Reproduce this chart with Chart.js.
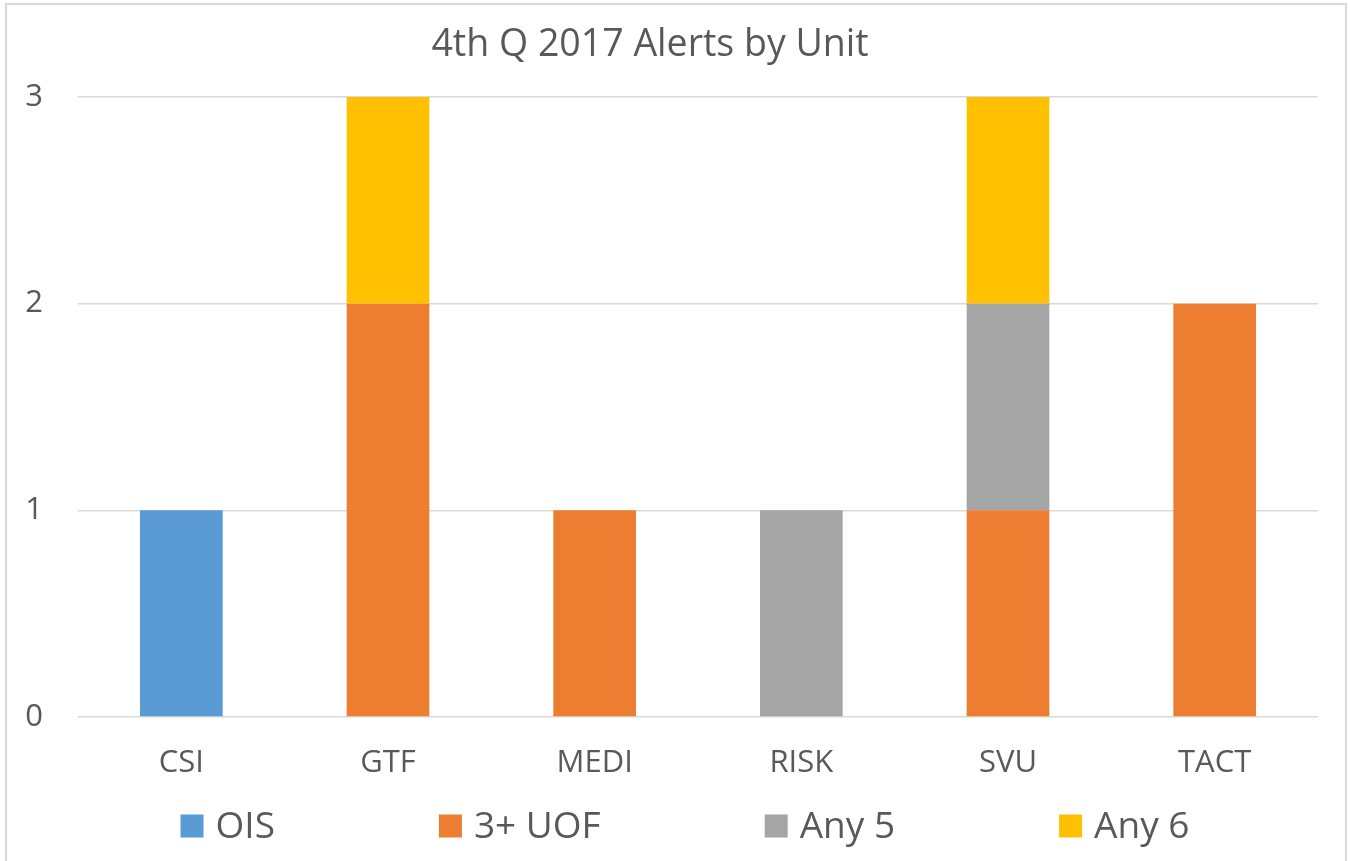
<!DOCTYPE html>
<html>
<head>
<meta charset="utf-8">
<script src="https://cdn.jsdelivr.net/npm/chart.js@4/dist/chart.umd.min.js"></script>
<style>
  html, body { margin: 0; padding: 0; background: #ffffff; }
  #wrap { width: 1350px; height: 861px; position: relative; }
</style>
</head>
<body>
<div id="wrap"><canvas id="c" width="1350" height="861"></canvas></div>
<script>
const chartTitle = '4th Q 2017 Alerts by Unit';
const categories = ['CSI', 'GTF', 'MEDI', 'RISK', 'SVU', 'TACT'];
const seriesNames = ['OIS', '3+ UOF', 'Any 5', 'Any 6'];
const oisValues  = [1, 0, 0, 0, 0, 0];
const uofValues  = [0, 2, 1, 0, 1, 2];
const any5Values = [0, 0, 0, 1, 1, 0];
const any6Values = [0, 1, 0, 0, 1, 0];
const yTicks = [0, 1, 2, 3];
const seriesColors = ['#5B9BD5', '#ED7D31', '#A5A5A5', '#FFC000'];

const TEXT = '#595959';
const FONT = "'Open Sans', 'DejaVu Sans', sans-serif";

const decorPlugin = {
  id: 'decor',
  beforeDraw(chart) {
    const ctx = chart.ctx;
    ctx.save();
    ctx.strokeStyle = '#D9D9D9';
    ctx.lineWidth = 2;
    ctx.strokeRect(6, 4, 1340, 880);
    ctx.restore();
  },
  afterDraw(chart) {
    const ctx = chart.ctx;
    ctx.save();
    // title
    ctx.fillStyle = TEXT;
    ctx.font = "37.5px " + FONT;
    ctx.textAlign = 'center';
    ctx.textBaseline = 'middle';
    ctx.fillText(chartTitle, 650, 45);
    // legend
    ctx.font = "37px " + FONT;
    const box = 23, gapText = 12, gapItem = 164;
    const ds = chart.data.datasets;
    let total = 0;
    const widths = ds.map(d => ctx.measureText(d.label).width);
    widths.forEach((w, i) => { total += box + gapText + w + (i < widths.length - 1 ? gapItem : 0); });
    let x = 685 - total / 2;
    const cy = 826;
    ctx.textAlign = 'left';
    ds.forEach((d, i) => {
      ctx.fillStyle = d.backgroundColor;
      ctx.fillRect(x, cy - box / 2, box, box);
      ctx.fillStyle = TEXT;
      ctx.fillText(d.label, x + box + gapText, cy + 1);
      x += box + gapText + widths[i] + gapItem;
    });
    ctx.restore();
  }
};

const valueLists = [oisValues, uofValues, any5Values, any6Values];

new Chart(document.getElementById('c'), {
  type: 'bar',
  data: {
    labels: categories,
    datasets: seriesNames.map((name, i) => ({
      label: name,
      data: valueLists[i],
      backgroundColor: seriesColors[i],
      borderWidth: 0,
      barPercentage: 0.4,
      categoryPercentage: 1.0
    }))
  },
  options: {
    responsive: false,
    animation: false,
    devicePixelRatio: 1,
    layout: { padding: { left: 0, right: 32, top: 97, bottom: 83 } },
    plugins: {
      legend: { display: false },
      title: { display: false },
      tooltip: { enabled: false }
    },
    scales: {
      x: {
        stacked: true,
        grid: { display: false, drawTicks: false },
        border: { display: false },
        ticks: { color: TEXT, font: { family: FONT, size: 31 }, padding: 28, maxRotation: 0 },
        afterFit(scale) { scale.height = 61; }
      },
      y: {
        stacked: true,
        min: 0,
        max: 3,
        afterBuildTicks(scale) { scale.ticks = yTicks.map(v => ({ value: v })); },
        grid: { color: '#D9D9D9', lineWidth: 1.5, drawTicks: false },
        border: { display: false },
        ticks: { color: TEXT, font: { family: FONT, size: 31 }, padding: 35 },
        afterFit(scale) { scale.width = 78; }
      }
    }
  },
  plugins: [decorPlugin]
});
</script>
</body>
</html>
